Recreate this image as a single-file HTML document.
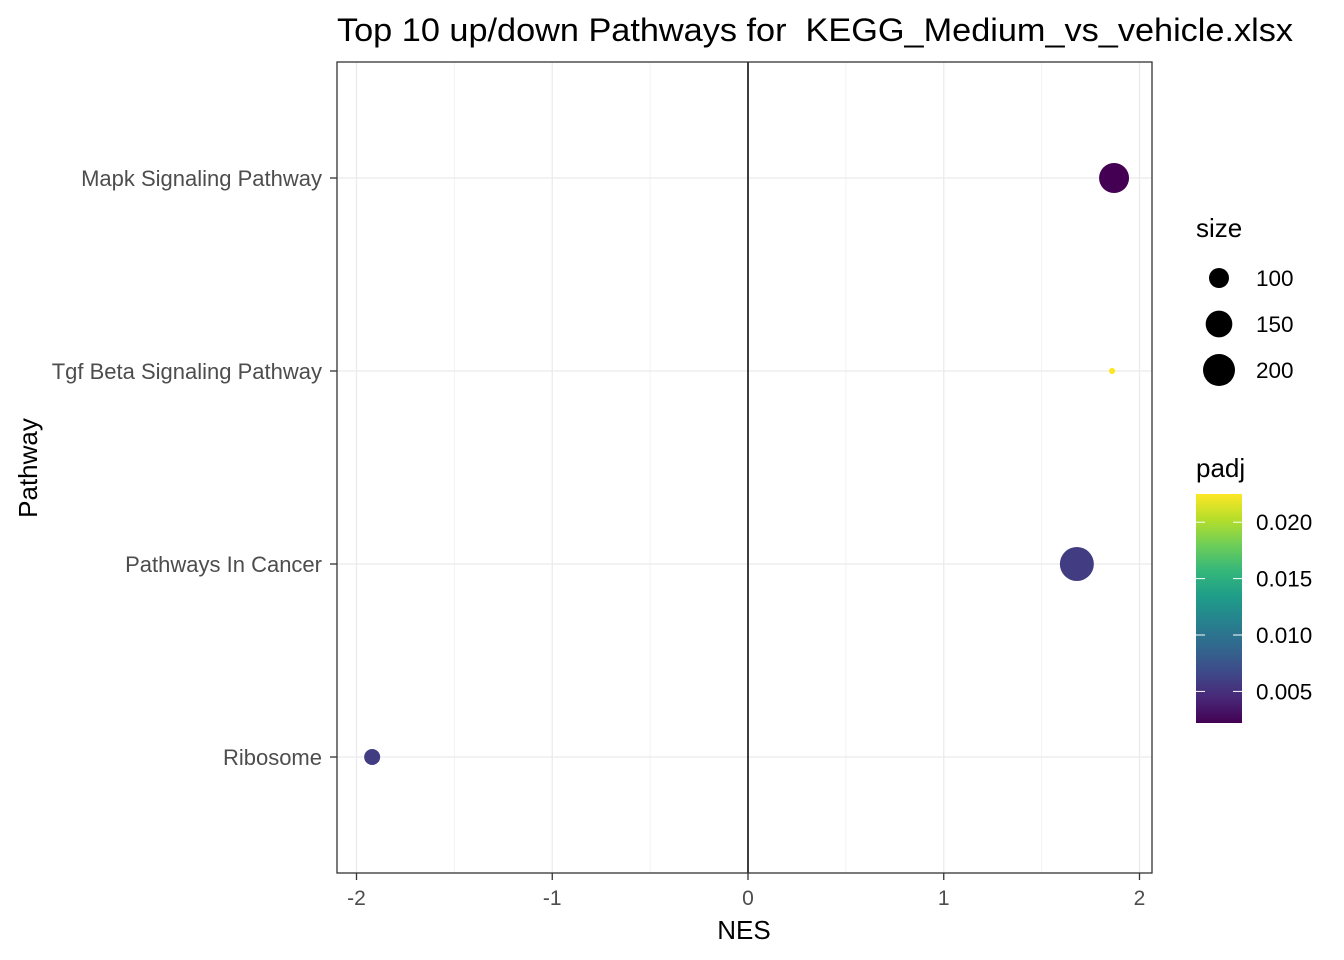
<!DOCTYPE html>
<html><head><meta charset="utf-8"><style>
body{margin:0;background:#fff;}
svg{display:block;font-family:"Liberation Sans",Arial,sans-serif;}
</style></head><body>
<svg id="chart" width="1344" height="960" viewBox="0 0 1344 960">
<rect width="1344" height="960" fill="#fff"/>
<text x="337" y="41" font-size="32" fill="#000" textLength="956" lengthAdjust="spacingAndGlyphs">Top 10 up/down Pathways for&#160; KEGG_Medium_vs_vehicle.xlsx</text>
<g id="grid"></g>
<g id="marks"></g>
<rect x="337" y="62" width="815" height="811" fill="none" stroke="#333" stroke-width="1.3"/>
<g id="axes"></g>
<text x="744" y="939" font-size="26" text-anchor="middle">NES</text>
<text transform="translate(37,468) rotate(-90)" font-size="26" text-anchor="middle">Pathway</text>
<g id="legend"></g>
</svg>
<script>
const pathways = ["Mapk Signaling Pathway","Tgf Beta Signaling Pathway","Pathways In Cancer","Ribosome"];
const nes = [1.87, 1.86, 1.68, -1.92];
const sizes = [180, 42, 221, 77];
const padj = [0.0022, 0.0225, 0.0058, 0.0058];
const xTicks = [-2,-1,0,1,2];
const xMinor = [-1.5,-0.5,0.5,1.5];
const sizeLegend = [100,150,200];
const padjTicks = [0.005,0.010,0.015,0.020];

const NS="http://www.w3.org/2000/svg";
function mk(tag,attrs,parent){const e=document.createElementNS(NS,tag);for(const k in attrs)e.setAttribute(k,attrs[k]);parent.appendChild(e);return e;}
const X=v=>748+v*195.75;
const Y=i=>178+i*193;
const R=s=>Math.sqrt(Math.max(4,-56+1.56*s));
const pMin=0.0022,pMax=0.0225;
const vir=["#440154","#482878","#3e4a89","#31688e","#26828e","#1f9e89","#35b779","#6ece58","#b5de2b","#fde725"];
function hex(h){return [1,3,5].map(i=>parseInt(h.substr(i,2),16));}
function col(p){let t=Math.min(1,Math.max(0,(p-pMin)/(pMax-pMin)))*(vir.length-1);const i=Math.min(vir.length-2,Math.floor(t)),f=t-i;const a=hex(vir[i]),b=hex(vir[i+1]);return "rgb("+a.map((v,k)=>Math.round(v+(b[k]-v)*f)).join(",")+")";}
const CY=p=>723-(p-pMin)/(pMax-pMin)*229;

const grid=document.getElementById('grid'),marks=document.getElementById('marks'),axes=document.getElementById('axes'),leg=document.getElementById('legend');
xMinor.forEach(v=>{const l=mk('line',{x1:X(v),x2:X(v),y1:62,y2:873,stroke:"#f2f2f2","stroke-width":1},grid);

});
xTicks.forEach(v=>{const l=mk('line',{x1:X(v),x2:X(v),y1:62,y2:873,stroke:"#ebebeb","stroke-width":1.3},grid);


const t=mk('line',{x1:X(v),x2:X(v),y1:873,y2:880,stroke:"#333","stroke-width":1.3},axes);


const tx=mk('text',{x:X(v),y:905,"font-size":21,"text-anchor":"middle",fill:"#4d4d4d"},axes);tx.textContent=v===0?"0":(v<0?"-"+(-v):String(v));

});
pathways.forEach((p,i)=>{const l=mk('line',{x1:337,x2:1152,y1:Y(i),y2:Y(i),stroke:"#ebebeb","stroke-width":1.3},grid);


const t=mk('line',{x1:330,x2:337,y1:Y(i),y2:Y(i),stroke:"#333","stroke-width":1.3},axes);


const tx=mk('text',{x:322,y:Y(i)+8,"font-size":22,"text-anchor":"end",fill:"#4d4d4d"},axes);tx.textContent=p;

});
const zl=mk('line',{x1:X(0),x2:X(0),y1:62,y2:873,stroke:"#000","stroke-width":1.5},grid);


pathways.forEach((p,i)=>{const c=mk('circle',{cx:X(nes[i]),cy:Y(i),r:R(sizes[i]),fill:col(padj[i])},marks);

});

const st=mk('text',{x:1196,y:237,"font-size":26},leg);st.textContent="size";


sizeLegend.forEach((s,i)=>{const y=278+i*46;
const c=mk('circle',{cx:1219,cy:y,r:R(s),fill:"#000"},leg);


const t=mk('text',{x:1256,y:y+8,"font-size":22.5},leg);t.textContent=s;

});
const pt=mk('text',{x:1196,y:477,"font-size":26},leg);pt.textContent="padj";


const defs=mk('defs',{},leg);const g=mk('linearGradient',{id:"vg",x1:0,y1:1,x2:0,y2:0},defs);
vir.forEach((c,i)=>mk('stop',{offset:i/(vir.length-1),"stop-color":c},g));
const bar=mk('rect',{x:1196,y:494,width:46,height:229,fill:"url(#vg)"},leg);


padjTicks.forEach(p=>{const y=CY(p);
mk('line',{x1:1196,x2:1205,y1:y,y2:y,stroke:"#fff","stroke-width":1},leg);
mk('line',{x1:1233,x2:1242,y1:y,y2:y,stroke:"#fff","stroke-width":1},leg);
const t=mk('text',{x:1256,y:y+8,"font-size":22.5},leg);t.textContent=p.toFixed(3);

});
</script>
</body></html>
